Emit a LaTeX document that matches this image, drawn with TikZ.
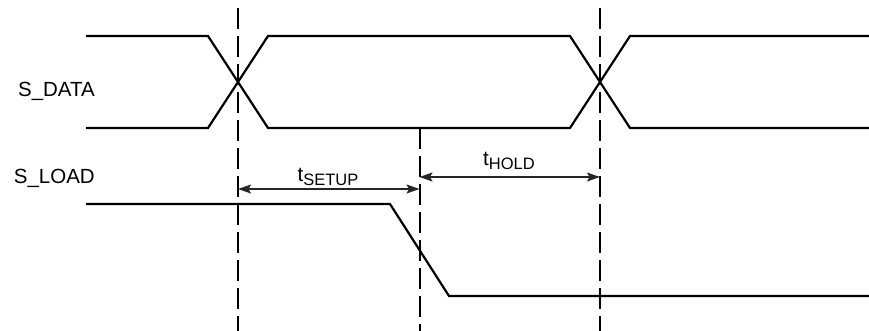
\documentclass[tikz,border=0pt]{standalone}
\usepackage{fontspec}
\setmainfont{Liberation Sans}
\usetikzlibrary{arrows.meta}
\begin{document}
\begin{tikzpicture}[x=1pt,y=-1pt,
  sig/.style={line width=2.2pt, line join=miter},
  guide/.style={line width=2pt, dash pattern=on 21pt off 7pt},
  dim/.style={line width=1.3pt, draw=black!85, {Stealth[length=13pt,width=9pt,inset=2.5pt]}-{Stealth[length=13pt,width=9pt,inset=2.5pt]}},
  lbl/.style={font=\fontsize{20.5}{20.5}\selectfont, inner sep=0pt}]
\newcommand{\subtxt}[1]{\raisebox{-3.5pt}{\fontsize{16.5}{16.5}\selectfont #1}}
\useasboundingbox (0,0) rectangle (869,331);
% S_DATA
\draw[sig] (86,36) -- (208,36) -- (268,128) -- (570,128) -- (630,36) -- (869,36);
\draw[sig] (86,128) -- (208,128) -- (268,36) -- (570,36) -- (630,128) -- (869,128);
% S_LOAD
\draw[sig] (86,204) -- (390,204) -- (449,296) -- (869,296);
% guides
\coordinate (g1t) at (238,8);   \coordinate (g1b) at (238,331);
\coordinate (g2t) at (419.5,128); \coordinate (g2b) at (419.5,331);
\coordinate (g3t) at (600,8);   \coordinate (g3b) at (600,331);
\draw[guide] (g1t) -- (g1b);
\draw[guide] (g2t) -- (g2b);
\draw[guide] (g3t) -- (g3b);
% dimension arrows
\coordinate (s1) at (238,189); \coordinate (s2) at (419.5,189);
\coordinate (h1) at (419.5,177); \coordinate (h2) at (600,177);
\draw[dim] (s1) -- (s2);
\draw[dim] (h1) -- (h2);
% labels
\node[lbl, anchor=base east] (ldata) at (95,96.5) {S\_DATA};
\node[lbl, anchor=base east] (lload) at (95,183) {S\_LOAD};
\node[lbl, anchor=base] (tsetup) at (328,182) {t\subtxt{SETUP}};
\node[lbl, anchor=base] (thold) at (509,166) {t\subtxt{HOLD}};
\end{tikzpicture}
\end{document}
